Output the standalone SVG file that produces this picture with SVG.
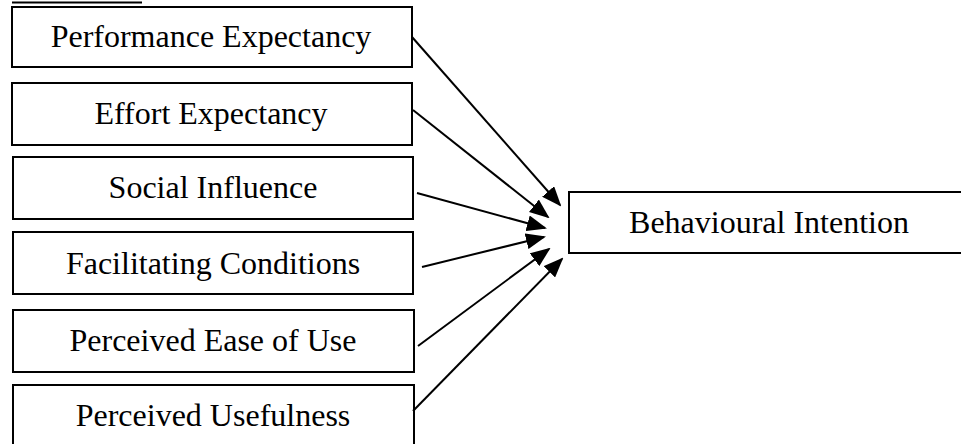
<svg xmlns="http://www.w3.org/2000/svg" width="961" height="444" viewBox="0 0 961 444">
<style>
.box{fill:#fff;stroke:#000;stroke-width:2}
.lbl{font-family:"Liberation Serif","Times New Roman",serif;font-size:32px;fill:#000;text-anchor:middle}
.con{stroke:#000;stroke-width:2;fill:none;marker-end:url(#ah)}
</style>
<defs>
<marker id="ah" markerWidth="10" markerHeight="8" refX="9" refY="4" orient="auto" markerUnits="strokeWidth">
<path d="M0,0 L10,4 L0,8 Z" fill="#000"/>
</marker>
</defs>
<rect width="961" height="444" fill="#fff"/>
<line x1="12" y1="2.5" x2="142" y2="2.5" stroke="#000" stroke-width="2"/>
<g id="n1"><rect class="box" x="12" y="7" width="400" height="60"/><text class="lbl" x="211" y="47">Performance Expectancy</text></g>
<g id="n2"><rect class="box" x="12" y="83" width="400" height="62"/><text class="lbl" x="211" y="124">Effort Expectancy</text></g>
<g id="n3"><rect class="box" x="13" y="157" width="400" height="62"/><text class="lbl" x="213" y="198">Social Influence</text></g>
<g id="n4"><rect class="box" x="13" y="232" width="400" height="62"/><text class="lbl" x="213" y="274">Facilitating Conditions</text></g>
<g id="n5"><rect class="box" x="13" y="310" width="401" height="62"/><text class="lbl" x="213" y="351">Perceived Ease of Use</text></g>
<g id="n6"><rect class="box" x="13" y="385" width="401" height="70"/><text class="lbl" x="213" y="426">Perceived Usefulness</text></g>
<g id="n7"><rect class="box" x="569" y="192" width="400" height="61"/><text class="lbl" x="769" y="233">Behavioural Intention</text></g>
<g id="connectors">
<line class="con" x1="412" y1="37" x2="560" y2="205"/>
<line class="con" x1="413" y1="110" x2="548" y2="217"/>
<line class="con" x1="417" y1="193" x2="545" y2="228"/>
<line class="con" x1="422" y1="267" x2="544" y2="237"/>
<line class="con" x1="418" y1="346" x2="549" y2="249"/>
<line class="con" x1="413" y1="411" x2="562" y2="259"/>
</g>
</svg>
